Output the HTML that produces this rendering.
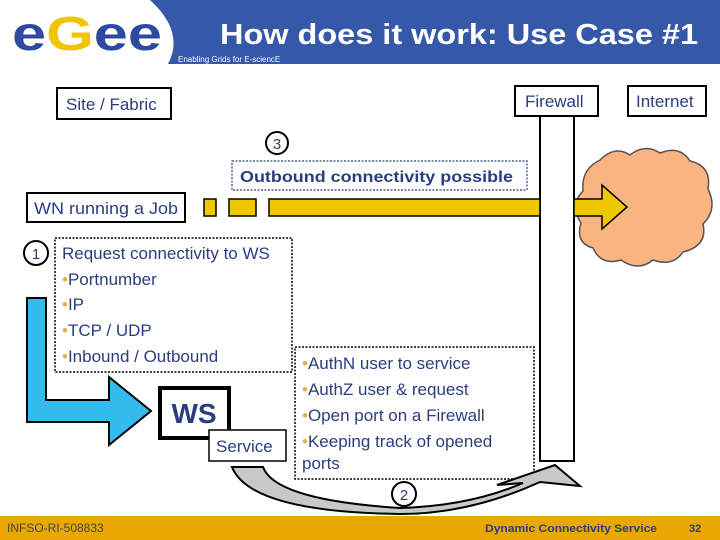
<!DOCTYPE html>
<html><head><meta charset="utf-8"><style>
html,body{margin:0;padding:0;background:#fff;}
svg{display:block;}
text{font-family:"Liberation Sans",sans-serif;}
</style></head><body>
<svg width="720" height="540" viewBox="0 0 720 540" xmlns="http://www.w3.org/2000/svg">
<!-- header -->
<path d="M150,0 H720 V64 H168 Q185,32 150,0 Z" fill="#3558a8"/>
<text x="12" y="50" font-size="48" font-weight="bold" fill="#2e4aa0" textLength="150" lengthAdjust="spacingAndGlyphs">e<tspan fill="#f2c500">G</tspan>ee</text>
<text x="220" y="44" font-size="29" font-weight="bold" fill="#fff" textLength="478" lengthAdjust="spacingAndGlyphs">How does it work: Use Case  #1</text>
<text x="178" y="62" font-size="8" fill="#fff">Enabling Grids for E-sciencE</text>

<g fill="#fff" stroke="#000" stroke-width="2">
<rect x="57" y="88" width="114" height="31"/>
<rect x="515" y="86" width="83" height="30"/>
<rect x="628" y="86" width="78" height="30"/>
<rect x="27" y="193" width="158" height="29"/>
</g>
<g font-size="17" fill="#2b3d7f">
<text x="66" y="110">Site / Fabric</text>
<text x="525" y="107">Firewall</text>
<text x="636" y="107">Internet</text>
<text x="34" y="214" textLength="144" lengthAdjust="spacingAndGlyphs">WN running a Job</text>
</g>

<!-- cloud -->
<path d="M600,160 q15,-15 30,-5 q15,-12 30,-2 q20,-8 30,8 q22,5 18,28 q10,20 -5,35 q5,22 -20,28 q-10,15 -30,8 q-15,12 -32,0 q-20,6 -28,-12 q-18,-5 -12,-25 q-12,-18 2,-32 q-2,-22 17,-31 Z" fill="#f9b482" stroke="#555" stroke-width="1.5"/>

<!-- firewall column -->
<rect x="540" y="116" width="34" height="345" fill="#fff" stroke="#000" stroke-width="2"/>

<!-- yellow -->
<g fill="#f0c800" stroke="#000" stroke-width="1.5">
<rect x="204" y="199" width="12" height="17"/>
<rect x="229" y="199" width="27" height="17"/>
<rect x="269" y="199" width="271" height="17"/>
<path d="M574,199 H602 V185 L627,207 L602,229 V216 H574 Z"/>
</g>

<!-- circle 3 -->
<circle cx="277" cy="143" r="11" fill="#fff" stroke="#000" stroke-width="2"/>
<text x="277" y="149" font-size="15" text-anchor="middle" fill="#2b3d7f">3</text>

<rect x="232" y="161" width="295" height="29" fill="none" stroke="#2b3d7f" stroke-width="1.2" stroke-dasharray="2,1.5"/>
<text x="240" y="182" font-size="16" font-weight="bold" fill="#2b3d7f" textLength="273" lengthAdjust="spacingAndGlyphs">Outbound connectivity possible</text>

<!-- circle 1 -->
<circle cx="36" cy="253" r="12" fill="#fff" stroke="#000" stroke-width="2"/>
<text x="36" y="259" font-size="15" text-anchor="middle" fill="#2b3d7f">1</text>

<rect x="55" y="238" width="237" height="134" fill="none" stroke="#000" stroke-width="1.5" stroke-dasharray="2,1.5"/>
<g font-size="17" fill="#2b3d7f">
<text x="62" y="259">Request connectivity to WS</text>
<text x="62" y="285"><tspan fill="#e8b040">•</tspan>Portnumber</text>
<text x="62" y="310"><tspan fill="#e8b040">•</tspan>IP</text>
<text x="62" y="336"><tspan fill="#e8b040">•</tspan>TCP / UDP</text>
<text x="62" y="362"><tspan fill="#e8b040">•</tspan>Inbound / Outbound</text>
</g>

<!-- blue arrow -->
<path d="M27,298 H46 V400 H109 V377 L151,411 L109,445 V422 H27 Z" fill="#33bbee" stroke="#000" stroke-width="2"/>

<!-- WS -->
<rect x="160" y="388" width="69" height="50" fill="#fff" stroke="#000" stroke-width="4"/>
<text x="194" y="423" font-size="28" font-weight="bold" text-anchor="middle" fill="#2b3d7f">WS</text>
<rect x="209" y="430" width="77" height="31" fill="#fff" stroke="#000" stroke-width="1.5"/>
<text x="216" y="452" font-size="17" fill="#2b3d7f">Service</text>

<!-- dotted box 2 -->
<rect x="295" y="347" width="239" height="132" fill="#fff" stroke="#000" stroke-width="1.5" stroke-dasharray="2,1.5"/>
<g font-size="17" fill="#2b3d7f">
<text x="302" y="369"><tspan fill="#e8b040">•</tspan>AuthN user to service</text>
<text x="302" y="395"><tspan fill="#e8b040">•</tspan>AuthZ user &amp; request</text>
<text x="302" y="421"><tspan fill="#e8b040">•</tspan>Open port on a Firewall</text>
<text x="302" y="447"><tspan fill="#e8b040">•</tspan>Keeping track of opened</text>
<text x="302" y="469">ports</text>
</g>

<!-- curved arrow -->
<path d="M232,467 H263 Q275,500 400,508 Q470,506 523,483 L497,485 L555,465 L580,486 L540,482 Q470,514 400,514 Q250,512 232,467 Z" fill="#c8c8c8" stroke="#000" stroke-width="2"/>
<circle cx="404" cy="494" r="12" fill="#fff" stroke="#000" stroke-width="2"/>
<text x="404" y="500" font-size="15" text-anchor="middle" fill="#2b3d7f">2</text>

<!-- footer -->
<rect x="0" y="516" width="720" height="24" fill="#e8a800"/>
<text x="7" y="532" font-size="12" fill="#444" font-family="Liberation Mono, monospace">INFSO-RI-508833</text>
<text x="485" y="532" font-size="11" font-weight="bold" fill="#2b3d7f" textLength="172" lengthAdjust="spacingAndGlyphs">Dynamic Connectivity Service</text>
<text x="689" y="532" font-size="11" font-weight="bold" fill="#2b3d7f">32</text>
</svg>
</body></html>
